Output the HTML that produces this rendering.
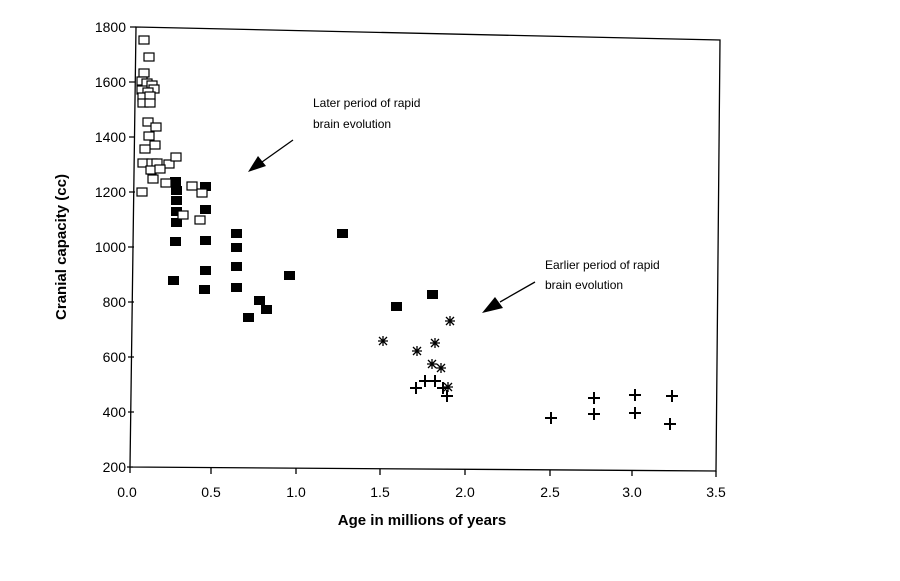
<!DOCTYPE html><html><head><style>body{margin:0;background:#fff}svg{display:block}text{font-family:"Liberation Sans",Arial,sans-serif;fill:#000}</style></head><body>
<svg width="900" height="581" viewBox="0 0 900 581" xmlns="http://www.w3.org/2000/svg">
<g stroke="#000" stroke-width="1.3" fill="none">
<path d="M136,27 L720,40 L716,471 L130,467 Z"/>
<path d="M130,27h6M129,82h6M129,137h6M129,192h6M128,247h6M128,302h6M128,357h6M128,412h6M127,467h6"/>
<path d="M130,467v6M211,468v6M296,468v6M380,469v6M465,469v6M550,470v6M632,470v6M716,471v6"/>
<path d="M293,140 L262,162"/><path d="M535,282 L500,302"/>
</g>
<path d="M248,172 L258,156 L266,166 Z" fill="#000"/>
<path d="M482,313 L495,297 L503,308 Z" fill="#000"/>
<g font-size="14" text-anchor="end">
<text x="126" y="32">1800</text><text x="126" y="87">1600</text><text x="126" y="142">1400</text><text x="126" y="197">1200</text><text x="126" y="252">1000</text><text x="126" y="307">800</text><text x="126" y="362">600</text><text x="126" y="417">400</text><text x="126" y="472">200</text>
</g>
<g font-size="14" text-anchor="middle">
<text x="127" y="497">0.0</text><text x="211" y="497">0.5</text><text x="296" y="497">1.0</text><text x="380" y="497">1.5</text><text x="465" y="497">2.0</text><text x="550" y="497">2.5</text><text x="632" y="497">3.0</text><text x="716" y="497">3.5</text>
</g>
<text x="422" y="525" font-size="15" font-weight="bold" text-anchor="middle">Age in millions of years</text>
<text transform="translate(66,247) rotate(-90)" font-size="15" font-weight="bold" text-anchor="middle">Cranial capacity (cc)</text>
<g font-size="12"><text x="313" y="107">Later period of rapid</text><text x="313" y="128">brain evolution</text><text x="545" y="269">Earlier period of rapid</text><text x="545" y="289">brain evolution</text></g>
<g fill="#000">
<rect x="170" y="177" width="11" height="9"/><rect x="171" y="186" width="11" height="9"/><rect x="171" y="196" width="11" height="9"/><rect x="171" y="207" width="11" height="9"/><rect x="171" y="218" width="11" height="9"/><rect x="170" y="237" width="11" height="9"/><rect x="168" y="276" width="11" height="9"/><rect x="200" y="182" width="11" height="9"/><rect x="200" y="205" width="11" height="9"/><rect x="200" y="236" width="11" height="9"/><rect x="200" y="266" width="11" height="9"/><rect x="199" y="285" width="11" height="9"/><rect x="231" y="229" width="11" height="9"/><rect x="231" y="243" width="11" height="9"/><rect x="231" y="262" width="11" height="9"/><rect x="231" y="283" width="11" height="9"/><rect x="243" y="313" width="11" height="9"/><rect x="254" y="296" width="11" height="9"/><rect x="261" y="305" width="11" height="9"/><rect x="284" y="271" width="11" height="9"/><rect x="337" y="229" width="11" height="9"/><rect x="391" y="302" width="11" height="9"/><rect x="427" y="290" width="11" height="9"/>
</g>
<g fill="#fff" stroke="#000" stroke-width="1.2">
<rect x="139" y="36" width="10" height="8"/><rect x="144" y="53" width="10" height="8"/><rect x="139" y="69" width="10" height="8"/><rect x="137" y="77" width="10" height="8"/><rect x="142" y="79" width="10" height="8"/><rect x="147" y="81" width="10" height="8"/><rect x="149" y="85" width="10" height="8"/><rect x="137" y="86" width="10" height="8"/><rect x="143" y="88" width="10" height="8"/><rect x="138" y="93" width="10" height="8"/><rect x="145" y="92" width="10" height="8"/><rect x="138" y="99" width="10" height="8"/><rect x="145" y="99" width="10" height="8"/>
<rect x="143" y="118" width="10" height="8"/><rect x="151" y="123" width="10" height="8"/><rect x="144" y="132" width="10" height="8"/><rect x="150" y="141" width="10" height="8"/><rect x="140" y="145" width="10" height="8"/><rect x="138" y="159" width="10" height="8"/><rect x="147" y="159" width="10" height="8"/><rect x="152" y="159" width="10" height="8"/><rect x="164" y="160" width="10" height="8"/><rect x="171" y="153" width="10" height="8"/><rect x="146" y="166" width="10" height="8"/><rect x="155" y="165" width="10" height="8"/><rect x="148" y="175" width="10" height="8"/><rect x="161" y="179" width="10" height="8"/><rect x="137" y="188" width="10" height="8"/><rect x="187" y="182" width="10" height="8"/><rect x="197" y="189" width="10" height="8"/><rect x="178" y="211" width="10" height="8"/><rect x="195" y="216" width="10" height="8"/>
</g>
<g stroke="#000" stroke-width="1.3">
<path d="M378,341h10M383,336v10M379,337l8,8M387,337l-8,8"/>
<path d="M445,321h10M450,316v10M446,317l8,8M454,317l-8,8"/>
<path d="M412,351h10M417,346v10M413,347l8,8M421,347l-8,8"/>
<path d="M430,343h10M435,338v10M431,339l8,8M439,339l-8,8"/>
<path d="M427,364h10M432,359v10M428,360l8,8M436,360l-8,8"/>
<path d="M436,368h10M441,363v10M437,364l8,8M445,364l-8,8"/>
<path d="M443,387h10M448,382v10M444,383l8,8M452,383l-8,8"/>
</g>
<g stroke="#000" stroke-width="2">
<path d="M410,388h12M416,382v12"/><path d="M419,381h12M425,375v12"/><path d="M429,381h12M435,375v12"/><path d="M437,388h12M443,382v12"/><path d="M441,396h12M447,390v12"/>
<path d="M545,418h12M551,412v12"/><path d="M588,398h12M594,392v12"/><path d="M588,414h12M594,408v12"/><path d="M629,395h12M635,389v12"/><path d="M629,413h12M635,407v12"/><path d="M666,396h12M672,390v12"/><path d="M664,424h12M670,418v12"/>
</g>
</svg>
</body></html>
